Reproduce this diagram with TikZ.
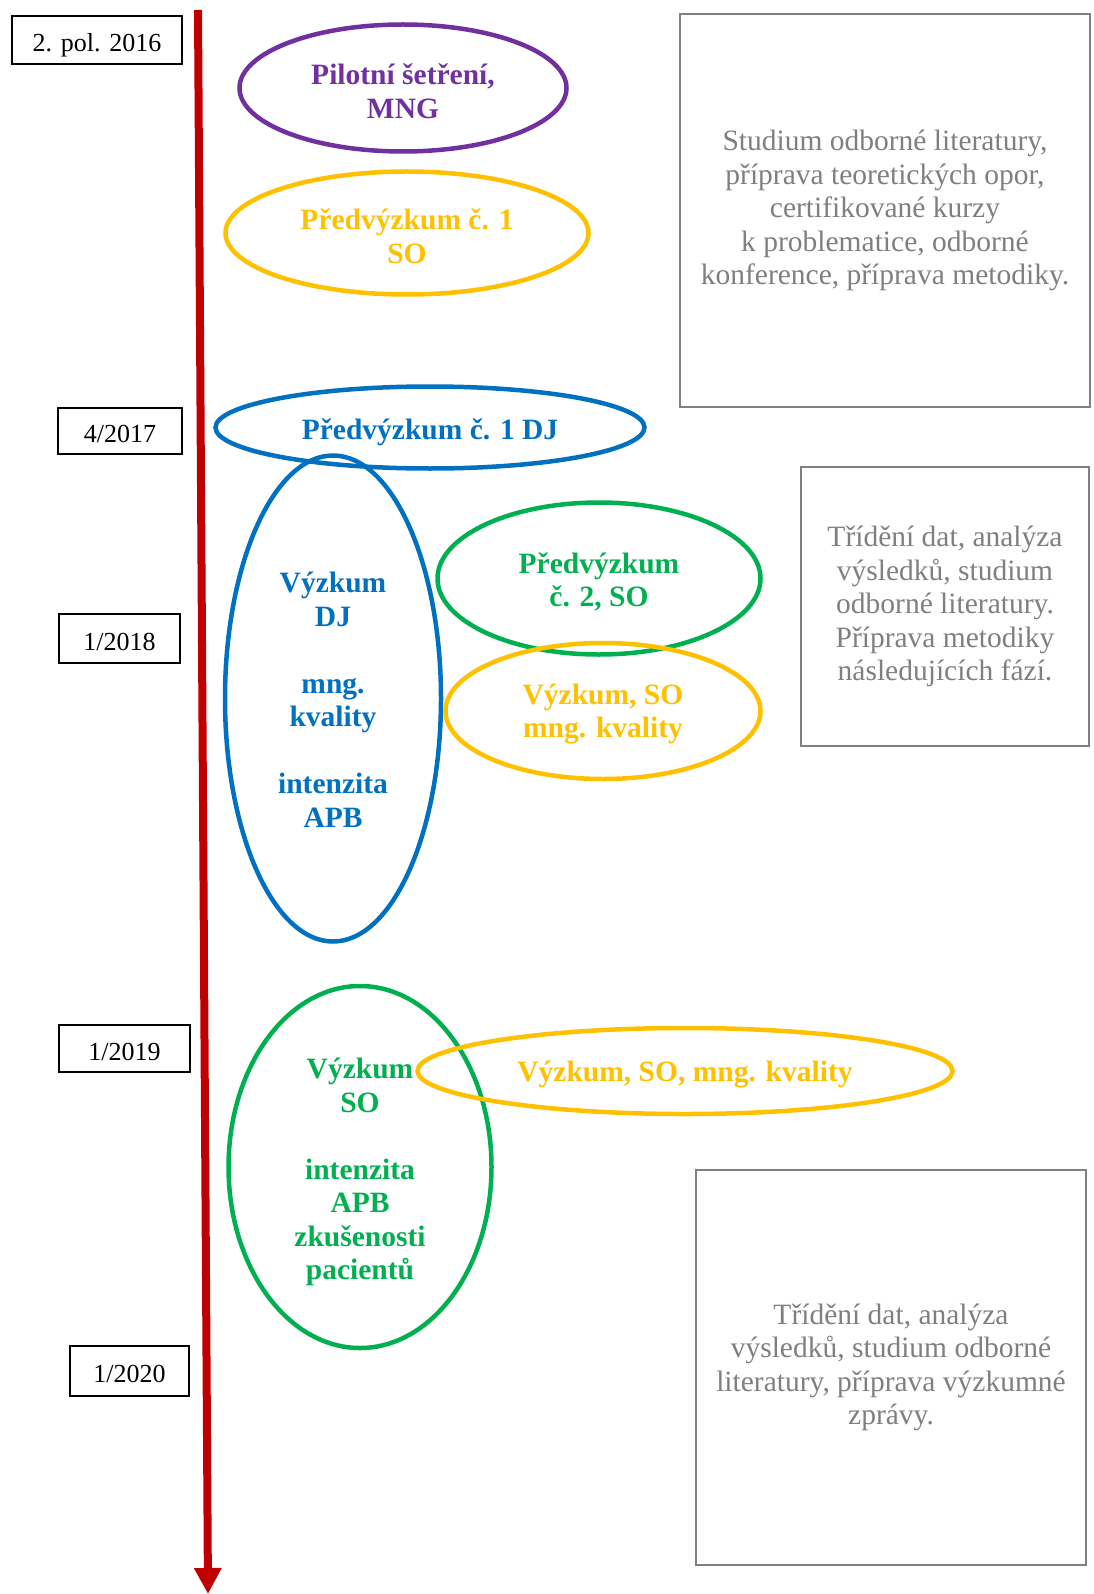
\documentclass[tikz,border=0pt]{standalone}
\usepackage{fontspec}
\setmainfont{Liberation Serif}
\usetikzlibrary{shapes.geometric,arrows.meta}
\definecolor{cpurple}{HTML}{7030A0}
\definecolor{corange}{HTML}{FFC000}
\definecolor{cblue}{HTML}{0070C0}
\definecolor{cgreen}{HTML}{00B050}
\definecolor{cred}{HTML}{C00000}
\definecolor{cgray}{HTML}{808080}
\definecolor{ctext}{HTML}{7F7F7F}
\tikzset{
  oval/.style={draw=#1, line width=4.5pt, ellipse, inner sep=0pt},
  ovaltext/.style={text=#1, font=\fontsize{29.5}{33.5}\selectfont\bfseries, align=center, inner sep=0pt},
  datebox/.style={draw=black, line width=2.7pt, inner sep=0pt, text height=23pt, text depth=0pt,
    font=\fontsize{26}{30}\selectfont},
  notebox/.style={draw=cgray, line width=2pt, inner sep=0pt, text=ctext, align=center,
    font=\fontsize{29.5}{33.5}\selectfont},
  timeline/.style={draw=cred, line width=8pt, -{Triangle[width=26pt,length=26pt]}}
}
\begin{document}
\begin{tikzpicture}[x=1pt,y=-1pt]
\useasboundingbox (0,0) rectangle (1093,1594);

% timeline
\coordinate (tstart) at (198,10);
\coordinate (tend) at (208,1594);
\draw[timeline] (tstart) -- (tend);

% dates
\node[datebox, minimum width=170pt, minimum height=48pt] (d1) at (97,40) {2. pol. 2016};
\node[datebox, minimum width=124pt, minimum height=46pt] (d2) at (120,431) {4/2017};
\node[datebox, minimum width=121pt, minimum height=49pt] (d3) at (119.5,638.5) {1/2018};
\node[datebox, minimum width=131pt, minimum height=47pt] (d4) at (124.5,1048.5) {1/2019};
\node[datebox, minimum width=119pt, minimum height=50pt] (d5) at (129.5,1371) {1/2020};

% notes
\node[notebox, minimum width=410pt, minimum height=393pt] (n1) at (885,210.5)
  {Studium odborné literatury,\\ příprava teoretických opor,\\ certifikované kurzy\\ k~problematice, odborné\\ konference, příprava metodiky.};
\node[notebox, minimum width=288pt, minimum height=279pt] (n2) at (945,606.5)
  {Třídění dat, analýza\\ výsledků, studium\\ odborné literatury.\\ Příprava metodiky\\ následujících fází.};
\node[notebox, minimum width=390pt, minimum height=395pt] (n3) at (891,1367.5)
  {Třídění dat, analýza\\ výsledků, studium odborné\\ literatury, příprava výzkumné\\ zprávy.};

% research phases
\node[oval=cpurple, minimum width=327pt, minimum height=127pt] (e1) at (403,88) {};
\node[ovaltext=cpurple] (t1) at (403,91) {Pilotní šetření,\\ MNG};

\node[oval=corange, minimum width=363pt, minimum height=123pt] (e2) at (407,233) {};
\node[ovaltext=corange] (t2) at (407,236) {Předvýzkum č. 1\\ SO};

\node[oval=cblue, minimum width=429pt, minimum height=82pt] (e3) at (430,427.5) {};
\node[ovaltext=cblue] (t3) at (430,432) {Předvýzkum č. 1 DJ};

\node[oval=cblue, minimum width=216pt, minimum height=486pt] (e4) at (333,698.5) {};
\node[ovaltext=cblue] (t4) at (333,700) {Výzkum\\ DJ\\[33.5pt] mng.\\ kvality\\[33.5pt] intenzita\\ APB};

\node[oval=cgreen, minimum width=323pt, minimum height=152pt] (e5) at (599,578.5) {};
\node[ovaltext=cgreen] (t5) at (599,582) {Předvýzkum\\ č. 2, SO};

\node[oval=corange, minimum width=315pt, minimum height=136pt] (e6) at (603,711) {};
\node[ovaltext=corange] (t6) at (603,714) {Výzkum, SO\\ mng. kvality};

\node[oval=cgreen, minimum width=263pt, minimum height=362pt] (e7) at (360,1167) {};
\node[ovaltext=cgreen] (t7) at (360,1172) {Výzkum\\ SO\\[33.5pt] intenzita\\ APB\\ zkušenosti\\ pacientů};

\node[oval=corange, minimum width=535pt, minimum height=86pt] (e8) at (685,1071) {};
\node[ovaltext=corange] (t8) at (685,1074) {Výzkum, SO, mng. kvality};
\end{tikzpicture}
\end{document}
